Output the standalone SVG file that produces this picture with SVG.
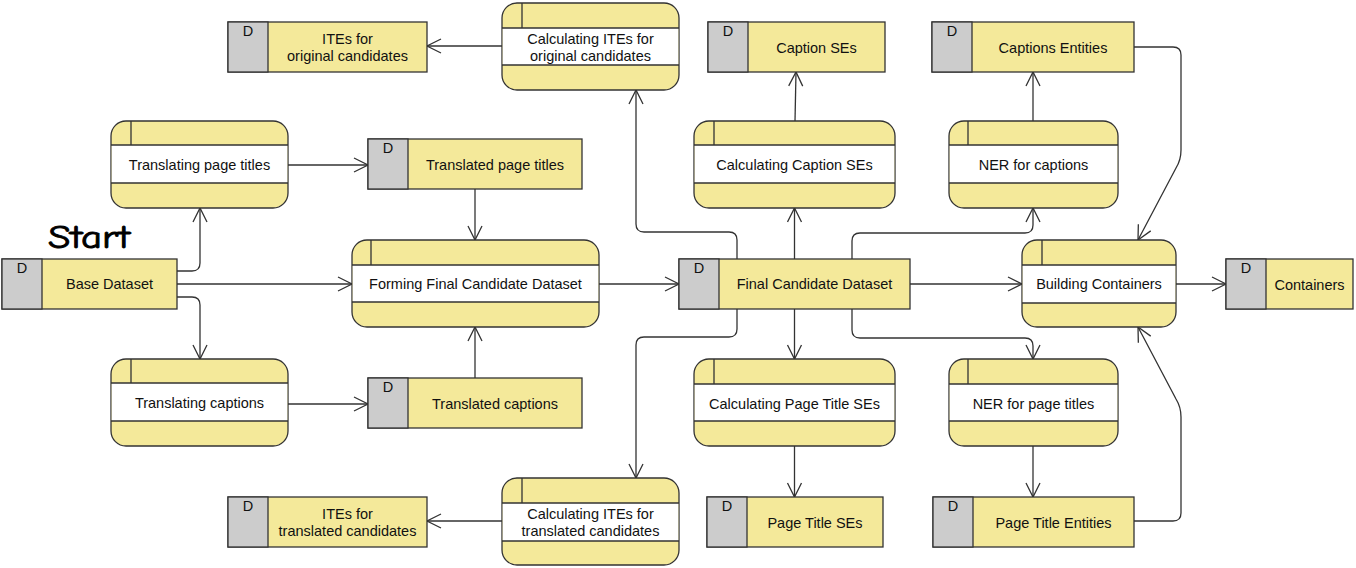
<svg xmlns="http://www.w3.org/2000/svg" width="1356" height="568" viewBox="0 0 1356 568">
<style>
.bg{fill:#ffffff}
.y{fill:#f4e99a;stroke:#333333;stroke-width:1.3}
.g{fill:#cccccc;stroke:#333333;stroke-width:1.3}
.w{fill:#ffffff;stroke:none}
.ln{stroke:#333333;stroke-width:1.3;fill:none}
.t{font-family:"Liberation Sans",Arial,sans-serif;font-size:14.5px;fill:#111111;text-anchor:middle}
.c{stroke:#333333;stroke-width:1.3;fill:none;marker-end:url(#arr)}
.start{font-family:"Comic Sans MS","Comic Neue",cursive;font-size:33px;fill:#000000;stroke:#000000;stroke-width:0.9}
</style>
<defs>
<marker id="arr" markerUnits="userSpaceOnUse" markerWidth="18" markerHeight="18" viewBox="0 0 18 18" refX="15" refY="8" orient="auto">
<path d="M1,1 L15,8 L1,15" fill="none" stroke="#333333" stroke-width="1.3"/>
</marker>
</defs>
<rect class="bg" x="0" y="0" width="1356" height="568"/>

<g id="connectors">
<path class="c" d="M177,271 H192 Q200,271 200,263 V208"/>
<path class="c" d="M177,284 H352"/>
<path class="c" d="M177,297 H192 Q200,297 200,305 V359"/>
<path class="c" d="M288,165 H368"/>
<path class="c" d="M288,404 H368"/>
<path class="c" d="M475,189 V240"/>
<path class="c" d="M475,378 V327"/>
<path class="c" d="M599,284 H679"/>
<path class="c" d="M737,259 V240 Q737,232 729,232 H644 Q636,232 636,224 V90"/>
<path class="c" d="M737,309 V329 Q737,337 729,337 H644 Q636,337 636,345 V478"/>
<path class="c" d="M794.5,259 V208"/>
<path class="c" d="M794.5,309 V359"/>
<path class="c" d="M852,259 V241 Q852,233 860,233 H1025 Q1033,233 1033,225 V208"/>
<path class="c" d="M852,309 V330 Q852,338 860,338 H1025 Q1033,338 1033,346 V359"/>
<path class="c" d="M910,284 H1022"/>
<path class="c" d="M1176,284 H1226"/>
<path class="c" d="M502,46 H427"/>
<path class="c" d="M502,521 H427"/>
<path class="c" d="M795,121 L796,72"/>
<path class="c" d="M1033,121 V72"/>
<path class="c" d="M794.5,446 V497"/>
<path class="c" d="M1033,446 V497"/>
<path class="c" d="M1134,47 H1173 Q1181,47 1181,55 V150 Q1181,160 1176,168 L1138,240"/>
<path class="c" d="M1134,521 H1173 Q1181,521 1181,513 V417 Q1181,407 1176,399 L1138,327"/>
</g>

<!-- Data stores -->
<g id="base-dataset">
<rect class="y" x="2" y="259" width="175" height="50"/>
<rect class="g" x="2" y="259" width="40" height="50"/>
<text class="t" x="22" y="273">D</text>
<text class="t" x="109.5" y="289">Base Dataset</text>
</g>
<g id="translated-page-titles">
<rect class="y" x="368" y="139" width="214" height="50"/>
<rect class="g" x="368" y="139" width="40" height="50"/>
<text class="t" x="388" y="153">D</text>
<text class="t" x="495" y="170">Translated page titles</text>
</g>
<g id="translated-captions">
<rect class="y" x="368" y="378" width="214" height="50"/>
<rect class="g" x="368" y="378" width="40" height="50"/>
<text class="t" x="388" y="392">D</text>
<text class="t" x="495" y="409">Translated captions</text>
</g>
<g id="final-candidate-dataset">
<rect class="y" x="679" y="259" width="231" height="50"/>
<rect class="g" x="679" y="259" width="40" height="50"/>
<text class="t" x="699" y="273">D</text>
<text class="t" x="814.5" y="289">Final Candidate Dataset</text>
</g>
<g id="containers">
<rect class="y" x="1226" y="259" width="127" height="50"/>
<rect class="g" x="1226" y="259" width="40" height="50"/>
<text class="t" x="1246" y="273">D</text>
<text class="t" x="1309.5" y="290">Containers</text>
</g>
<g id="captions-entities">
<rect class="y" x="932" y="22" width="202" height="50"/>
<rect class="g" x="932" y="22" width="40" height="50"/>
<text class="t" x="952" y="36">D</text>
<text class="t" x="1053" y="53">Captions Entities</text>
</g>
<g id="caption-ses">
<rect class="y" x="708" y="22" width="177" height="50"/>
<rect class="g" x="708" y="22" width="40" height="50"/>
<text class="t" x="728" y="36">D</text>
<text class="t" x="816.5" y="53">Caption SEs</text>
</g>
<g id="ites-original">
<rect class="y" x="228" y="22" width="199" height="50"/>
<rect class="g" x="228" y="22" width="40" height="50"/>
<text class="t" x="248" y="36">D</text>
<text class="t" x="347.5" y="44">ITEs for</text>
<text class="t" x="347.5" y="61">original candidates</text>
</g>
<g id="ites-translated">
<rect class="y" x="228" y="497" width="199" height="50"/>
<rect class="g" x="228" y="497" width="40" height="50"/>
<text class="t" x="248" y="511">D</text>
<text class="t" x="347.5" y="519">ITEs for</text>
<text class="t" x="347.5" y="536">translated candidates</text>
</g>
<g id="page-title-ses">
<rect class="y" x="707" y="497" width="176" height="50"/>
<rect class="g" x="707" y="497" width="40" height="50"/>
<text class="t" x="727" y="511">D</text>
<text class="t" x="815" y="528">Page Title SEs</text>
</g>
<g id="page-title-entities">
<rect class="y" x="933" y="497" width="201" height="50"/>
<rect class="g" x="933" y="497" width="40" height="50"/>
<text class="t" x="953" y="511">D</text>
<text class="t" x="1053.5" y="528">Page Title Entities</text>
</g>

<!-- Processes -->
<g id="translating-page-titles">
<rect class="y" x="111" y="121" width="177" height="87" rx="15"/>
<rect class="w" x="111.7" y="145" width="175.6" height="38"/>
<path class="ln" d="M111,145 H288 M111,183 H288 M131,121 V145"/>
<text class="t" x="199.5" y="170">Translating page titles</text>
</g>
<g id="translating-captions">
<rect class="y" x="111" y="359" width="177" height="87" rx="15"/>
<rect class="w" x="111.7" y="383" width="175.6" height="38"/>
<path class="ln" d="M111,383 H288 M111,421 H288 M131,359 V383"/>
<text class="t" x="199.5" y="408">Translating captions</text>
</g>
<g id="forming-final">
<rect class="y" x="352" y="240" width="247" height="87" rx="15"/>
<rect class="w" x="352.7" y="265" width="245.6" height="37"/>
<path class="ln" d="M352,265 H599 M352,302 H599 M371,240 V265"/>
<text class="t" x="475.5" y="289">Forming Final Candidate Dataset</text>
</g>
<g id="calc-ites-original">
<rect class="y" x="502" y="3" width="177" height="87" rx="15"/>
<rect class="w" x="502.7" y="28" width="175.6" height="37"/>
<path class="ln" d="M502,28 H679 M502,65 H679 M522,3 V28"/>
<text class="t" x="590.5" y="44">Calculating ITEs for</text>
<text class="t" x="590.5" y="61">original candidates</text>
</g>
<g id="calc-ites-translated">
<rect class="y" x="502" y="478" width="177" height="87" rx="15"/>
<rect class="w" x="502.7" y="503" width="175.6" height="38"/>
<path class="ln" d="M502,503 H679 M502,541 H679 M522,478 V503"/>
<text class="t" x="590.5" y="519">Calculating ITEs for</text>
<text class="t" x="590.5" y="536">translated candidates</text>
</g>
<g id="calc-caption-ses">
<rect class="y" x="694" y="121" width="201" height="87" rx="15"/>
<rect class="w" x="694.7" y="145" width="199.6" height="38"/>
<path class="ln" d="M694,145 H895 M694,183 H895 M714,121 V145"/>
<text class="t" x="794.5" y="170">Calculating Caption SEs</text>
</g>
<g id="ner-captions">
<rect class="y" x="949" y="121" width="169" height="87" rx="15"/>
<rect class="w" x="949.7" y="145" width="167.6" height="38"/>
<path class="ln" d="M949,145 H1118 M949,183 H1118 M968,121 V145"/>
<text class="t" x="1033.5" y="170">NER for captions</text>
</g>
<g id="building-containers">
<rect class="y" x="1022" y="240" width="154" height="87" rx="15"/>
<rect class="w" x="1022.7" y="265" width="152.6" height="38"/>
<path class="ln" d="M1022,265 H1176 M1022,303 H1176 M1042,240 V265"/>
<text class="t" x="1099" y="289">Building Containers</text>
</g>
<g id="calc-page-title-ses">
<rect class="y" x="694" y="359" width="201" height="87" rx="15"/>
<rect class="w" x="694.7" y="384" width="199.6" height="37"/>
<path class="ln" d="M694,384 H895 M694,421 H895 M714,359 V384"/>
<text class="t" x="794.5" y="409">Calculating Page Title SEs</text>
</g>
<g id="ner-page-titles">
<rect class="y" x="949" y="359" width="169" height="87" rx="15"/>
<rect class="w" x="949.7" y="384" width="167.6" height="37"/>
<path class="ln" d="M949,384 H1118 M949,421 H1118 M968,359 V384"/>
<text class="t" x="1033.5" y="409">NER for page titles</text>
</g>

<text class="start" x="48" y="248" textLength="82" lengthAdjust="spacingAndGlyphs">Start</text>
</svg>
